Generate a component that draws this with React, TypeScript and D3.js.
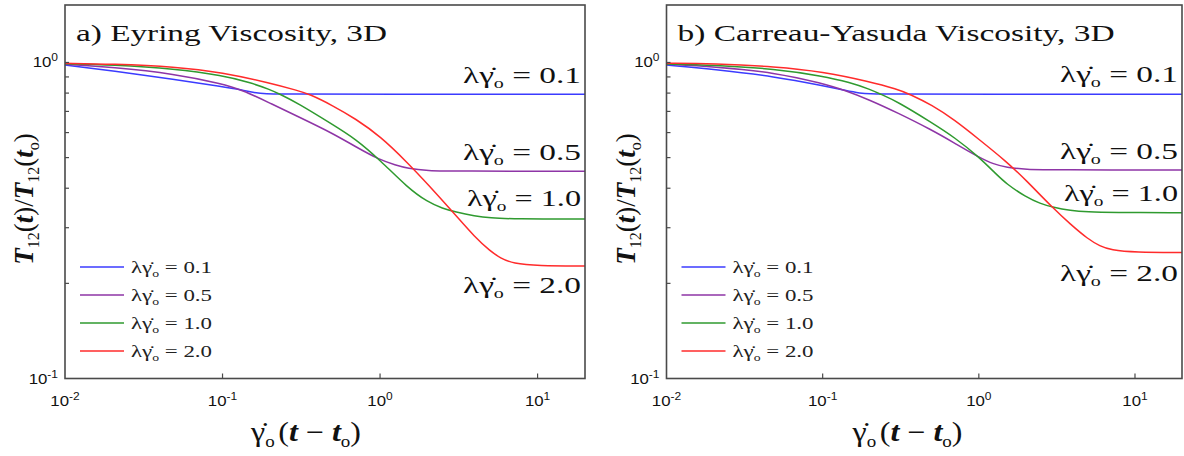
import React from 'react';
import * as d3 from 'd3';

const W = 1184;
const H = 456;

// axis ticks
const xMajorTicks = [0.01, 0.1, 1, 10];
const xTickExps = ['-2', '-1', '0', '1'];
const yMajorTicks = [0.1, 1];
const yTickExps = ['-1', '0'];
const yMinorTicks = [0.2, 0.3, 0.4, 0.5, 0.6, 0.7, 0.8, 0.9];

// series: λγ̇o values and colours
const seriesLabels = ['0.1', '0.5', '1.0', '2.0'];
const seriesColors = ['#3b3bff', '#8e35a6', '#2f9a2f', '#ff2b2b'];

// a) Eyring viscosity, [γ̇o(t - to), T12(t)/T12(to)]
const eyring01: [number, number][] = [[0.01, 0.982], [0.02, 0.94], [0.05, 0.884], [0.1, 0.839], [0.132, 0.82], [0.16, 0.8015], [0.186, 0.7945], [0.25, 0.794], [1, 0.794], [20, 0.794]];
const eyring05: [number, number][] = [[0.01, 0.987], [0.02, 0.966], [0.05, 0.92], [0.1, 0.855], [0.132, 0.82], [0.2, 0.744], [0.3, 0.675], [0.5, 0.597], [0.7, 0.541], [1, 0.491], [1.25, 0.474], [1.5, 0.462], [2, 0.4545], [3, 0.4529], [20, 0.4529]];
const eyring10: [number, number][] = [[0.01, 0.99], [0.02, 0.9827], [0.05, 0.955], [0.1, 0.909], [0.15, 0.864], [0.2, 0.821], [0.23, 0.795], [0.3, 0.744], [0.5, 0.636], [0.7, 0.573], [1, 0.491], [1.5, 0.401], [2, 0.362], [2.5, 0.345], [3, 0.3365], [4, 0.3267], [5, 0.322], [7, 0.3197], [20, 0.3197]];
const eyring20: [number, number][] = [[0.01, 0.9942], [0.02, 0.989], [0.05, 0.97], [0.1, 0.93], [0.2, 0.861], [0.3, 0.815], [0.354, 0.795], [0.5, 0.731], [0.7, 0.663], [1, 0.585], [1.5, 0.481], [2, 0.413], [3, 0.33], [4, 0.28], [5, 0.2532], [5.8, 0.2404], [7, 0.2311], [10, 0.2274], [20, 0.2269]];

// b) Carreau-Yasuda viscosity
const carreau01: [number, number][] = [[0.01, 0.982], [0.02, 0.9517], [0.05, 0.902], [0.1, 0.845], [0.1425, 0.814], [0.1734, 0.7995], [0.2, 0.795], [0.25, 0.794], [1, 0.794], [20, 0.794]];
const carreau05: [number, number][] = [[0.01, 0.989], [0.02, 0.97], [0.05, 0.929], [0.1, 0.858], [0.139, 0.817], [0.2, 0.761], [0.3, 0.694], [0.5, 0.6115], [0.7, 0.5555], [1, 0.5012], [1.25, 0.476], [1.5, 0.466], [2, 0.4585], [3, 0.457], [20, 0.457]];
const carreau10: [number, number][] = [[0.01, 0.989], [0.02, 0.982], [0.05, 0.9538], [0.1, 0.906], [0.15, 0.864], [0.2, 0.823], [0.233, 0.795], [0.3, 0.7527], [0.5, 0.6448], [0.7, 0.579], [1, 0.5023], [1.27, 0.4469], [1.5, 0.4129], [2, 0.3754], [2.47, 0.3578], [3, 0.3477], [3.84, 0.34], [5, 0.3364], [7, 0.3349], [20, 0.3347]];
const carreau20: [number, number][] = [[0.01, 0.9942], [0.02, 0.9913], [0.05, 0.97], [0.1, 0.935], [0.2, 0.8694], [0.3, 0.8226], [0.3625, 0.7934], [0.5, 0.7336], [0.7, 0.6578], [1, 0.5715], [1.5, 0.4863], [2, 0.4248], [3, 0.345], [3.84, 0.3084], [5, 0.2761], [5.97, 0.2624], [7, 0.2551], [10, 0.2508], [20, 0.2503]];

const panels = [
  {
    title: 'a) Eyring Viscosity, 3D',
    series: [eyring01, eyring05, eyring10, eyring20],
    left: 65, right: 585, titleW: 311,
    annY: [83, 160, 206, 293], annW: [118, 118, 114, 118],
  },
  {
    title: 'b) Carreau-Yasuda Viscosity, 3D',
    series: [carreau01, carreau05, carreau10, carreau20],
    left: 666.5, right: 1182, titleW: 437,
    annY: [82, 159, 201, 281], annW: [118, 118, 114, 118],
  },
];

const TOP = 5;
const BOTTOM = 378.5;
const SERIF = "'Liberation Serif', 'Times New Roman', serif";
const SANS = "'Liberation Sans', Arial, sans-serif";
const AXIS = '#4a4a4a';

// λγ̇o = value, as tspans
const LamGam = ({ value, size, sep = ' = ' }: { value: string; size: number; sep?: string }) => (
  <>
    <tspan>λ</tspan>
    <tspan>{'γ\u0307'}</tspan>
    <tspan fontSize={size * 0.6} dy={size * 0.22}>o</tspan>
    <tspan dy={-size * 0.22}>{`${sep}${value}`}</tspan>
  </>
);

// "10" with a superscript exponent, stretched a little like the source figure
const PowerLabel = ({ x, y, exp, anchor }: { x: number; y: number; exp: string; anchor: string }) => (
  <g transform={`translate(${x}, ${y}) scale(1.2, 1)`}>
    <text textAnchor={anchor} fontFamily={SANS} fontSize={14} fill="#111">
      <tspan>10</tspan>
      <tspan fontSize={10} dy={-6}>{exp}</tspan>
    </text>
  </g>
);

const Panel = ({ p }: { p: typeof panels[number] }) => {
  const x = d3.scaleLog().domain([0.01, 20]).range([p.left, p.right]);
  const y = d3.scaleLog().domain([0.1, 1.52]).range([BOTTOM, TOP]);
  // basis spline smooths the values
  const line = d3.line<[number, number]>()
    .x(d => x(d[0]))
    .y(d => y(d[1]))
    .curve(d3.curveBasis);

  return (
    <g>
      {/* title */}
      <text x={p.left + 11} y={40.5} fontFamily={SERIF} fontSize={24} fill="#111"
        textLength={p.titleW} lengthAdjust="spacingAndGlyphs">{p.title}</text>

      {/* curves */}
      {p.series.map((s, i) => (
        <path key={i} d={line(s) || ''} fill="none" stroke={seriesColors[i]} strokeWidth={1.5} />
      ))}

      {/* curve annotations */}
      {seriesLabels.map((lab, i) => (
        <text key={i} x={p.right - 4 - p.annW[i]} y={p.annY[i]} fontFamily={SERIF} fontSize={24} fill="#111"
          textLength={p.annW[i]} lengthAdjust="spacingAndGlyphs">
          <LamGam value={lab} size={24} />
        </text>
      ))}

      {/* legend */}
      {seriesLabels.map((lab, i) => (
        <g key={i} transform={`translate(${p.left}, ${267 + i * 28})`}>
          <line x1={15} x2={59} y1={0} y2={0} stroke={seriesColors[i]} strokeWidth={1.5} />
          <text x={66} y={6} fontFamily={SERIF} fontSize={16} fill="#222"
            textLength={81} lengthAdjust="spacingAndGlyphs">
            <LamGam value={lab} size={16} />
          </text>
        </g>
      ))}

      {/* frame */}
      <rect x={p.left} y={TOP} width={p.right - p.left} height={BOTTOM - TOP} fill="none" stroke={AXIS} strokeWidth={1.6} />

      {/* y ticks */}
      {yMinorTicks.concat([1]).map(t => (
        <line key={t} x1={p.left} x2={p.left + 4} y1={y(t)} y2={y(t)} stroke={AXIS} strokeWidth={1.2} />
      ))}
      {yMajorTicks.map((t, i) => (
        <PowerLabel key={t} x={p.left - 7} y={y(t) + 5} exp={yTickExps[i]} anchor="end" />
      ))}

      {/* x ticks */}
      {xMajorTicks.map((t, i) => (
        <g key={t}>
          {i > 0 && <line x1={x(t)} x2={x(t)} y1={BOTTOM} y2={BOTTOM - 5} stroke={AXIS} strokeWidth={1.2} />}
          <PowerLabel x={x(t)} y={406} exp={xTickExps[i]} anchor="middle" />
        </g>
      ))}

      {/* x label */}
      <text x={p.left + 186} y={441} fontFamily={SERIF} fontSize={27} fill="#111"
        textLength={110} lengthAdjust="spacingAndGlyphs">
        <tspan>{'γ\u0307'}</tspan>
        <tspan fontSize={16} dy={6}>o</tspan>
        <tspan dy={-6} dx={3}>(</tspan>
        <tspan fontStyle="italic" fontWeight="bold">t</tspan>
        <tspan>{' − '}</tspan>
        <tspan fontStyle="italic" fontWeight="bold">t</tspan>
        <tspan fontSize={16} dy={6}>o</tspan>
        <tspan dy={-6}>)</tspan>
      </text>

      {/* y label */}
      <text transform={`translate(${p.left - 32}, 199) rotate(-90)`} textAnchor="middle" fontFamily={SERIF} fontSize={27} fill="#111">
        <tspan fontStyle="italic" fontWeight="bold">T</tspan>
        <tspan fontSize={16} dy={6}>12</tspan>
        <tspan dy={-6}>(</tspan>
        <tspan fontStyle="italic" fontWeight="bold">t</tspan>
        <tspan>)/</tspan>
        <tspan fontStyle="italic" fontWeight="bold">T</tspan>
        <tspan fontSize={16} dy={6}>12</tspan>
        <tspan dy={-6}>(</tspan>
        <tspan fontStyle="italic" fontWeight="bold">t</tspan>
        <tspan fontSize={16} dy={6}>o</tspan>
        <tspan dy={-6}>)</tspan>
      </text>
    </g>
  );
};

export default function App() {
  return (
    <svg width={W} height={H} style={{ display: 'block', position: 'absolute', left: 0, top: 0, background: '#fff' }}>
      <rect width={W} height={H} fill="#fff" />
      {panels.map((p, i) => <Panel key={i} p={p} />)}
    </svg>
  );
}
